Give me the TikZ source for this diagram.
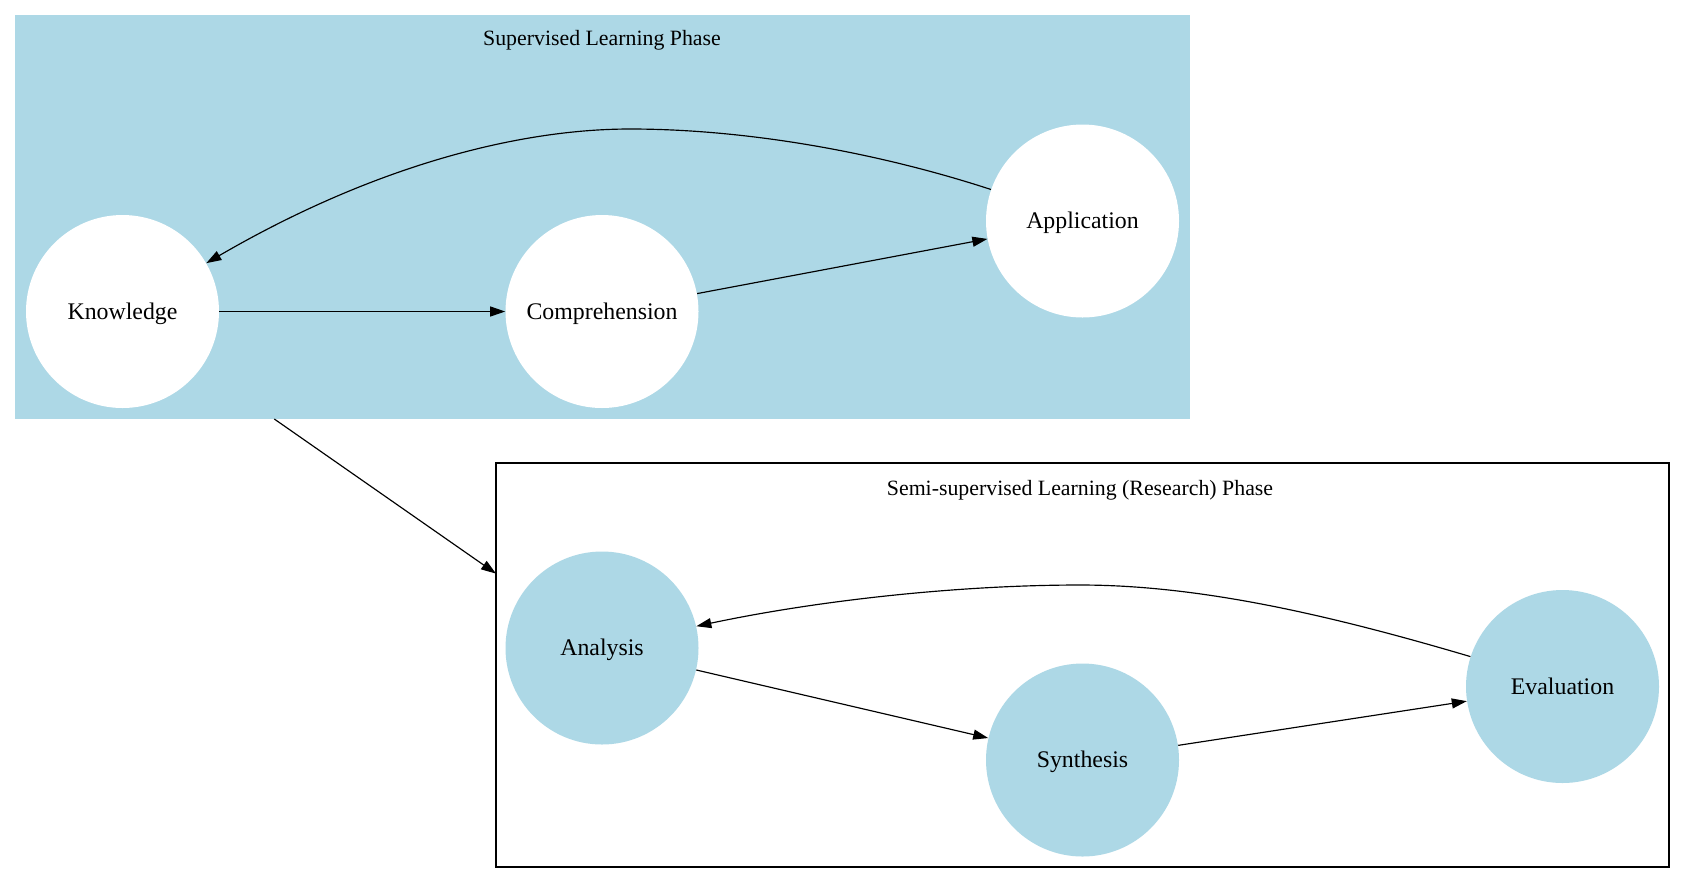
\documentclass[tikz,border=0pt]{standalone}
\usepackage{fontspec}
\setmainfont{Liberation Serif}
\usetikzlibrary{arrows.meta}
\definecolor{lblue}{HTML}{ADD8E6}
\begin{document}
\begin{tikzpicture}[x=0.6pt,y=-0.6pt,
  cnode/.style={circle,draw=none,minimum size=115.8pt,inner sep=0pt,text height=10pt,text depth=1pt,font=\fontsize{14.3}{17}\selectfont},
  wnode/.style={cnode,fill=white},
  bnode/.style={cnode,fill=lblue},
  clabel/.style={font=\fontsize{13.1}{16}\selectfont,anchor=base,inner sep=0pt},
  edge/.style={draw=black,line width=0.7pt,-{Triangle[length=9pt,width=6pt]}}
]
\useasboundingbox (0,0) rectangle (1685,883);
% clusters
\fill[lblue] (15,15) rectangle (1190,419);
\draw[line width=0.7pt,fill=white] (496,463) rectangle (1669,867);
\node[clabel] (lab1) at (602,45) {Supervised Learning Phase};
\node[clabel] (lab2) at (1080,495) {Semi-supervised Learning (Research) Phase};
% nodes
\node[wnode] (know) at (122.5,311.5) {Knowledge};
\node[wnode] (comp) at (602,311.5) {Comprehension};
\node[wnode] (app) at (1082.5,221) {Application};
\node[bnode] (ana) at (602,648) {Analysis};
\node[bnode] (syn) at (1082.5,760) {Synthesis};
\node[bnode] (eval) at (1562.5,686.5) {Evaluation};
% edges
\draw[edge] (know) -- (comp);
\draw[edge] (comp) -- (app);
\draw[edge] (app.161) .. controls (870,150) and (740,129) .. (630,129)
  .. controls (520,129) and (375,165) .. (know.30.5);
\draw[edge] (ana) -- (syn);
\draw[edge] (syn) -- (eval);
\draw[edge] (eval.162) .. controls (1330,615) and (1200,585) .. (1080,585)
  .. controls (960,585) and (820,600) .. (ana.13.2);
\coordinate (e1) at (274.3,419);
\coordinate (e2) at (496,573.6);
\draw[edge] (e1) -- (e2);
\end{tikzpicture}
\end{document}
